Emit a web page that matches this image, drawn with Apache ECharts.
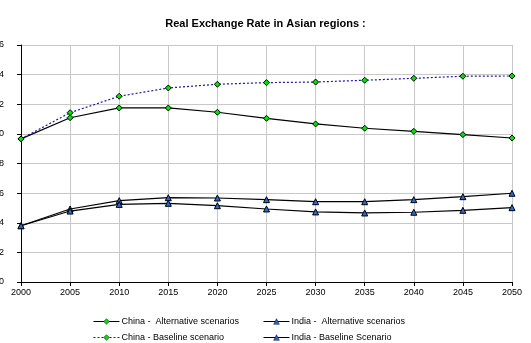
<!DOCTYPE html>
<html><head><meta charset="utf-8">
<script src="https://cdn.jsdelivr.net/npm/echarts@6/dist/echarts.min.js"></script>
<style>html,body{margin:0;padding:0;background:#fff}#c{width:531px;height:343px}</style>
</head><body><div id="c"></div>
<script>
var years = ['2000','2005','2010','2015','2020','2025','2030','2035','2040','2045','2050'];
var chinaAlt = [0.966,1.109,1.175,1.175,1.146,1.105,1.067,1.038,1.017,0.995,0.972];
var chinaBase = [0.966,1.143,1.254,1.310,1.335,1.346,1.350,1.362,1.375,1.389,1.391];
var indiaAlt = [0.380,0.493,0.549,0.569,0.567,0.556,0.542,0.542,0.556,0.576,0.599];
var indiaBase = [0.380,0.479,0.524,0.531,0.515,0.493,0.473,0.466,0.471,0.484,0.502];
var names = ['China -  Alternative scenarios','China - Baseline scenario','India -  Alternative scenarios','India - Baseline Scenario'];
var FONT = 'Liberation Sans, Arial, sans-serif';
var chart = echarts.init(document.getElementById('c'), null, {renderer:'canvas'});
function mk(name, data, lineColor, lineType, sym, symColor){
  return {name:name, type:'line', data:data, symbol:sym, symbolSize:6,
    lineStyle:{color:lineColor, width:1.2, type:lineType},
    itemStyle:{color:symColor, borderColor:'#000', borderWidth:1},
    emphasis:{disabled:true}, animation:false};
}
function lg(name, left, top){
  return {data:[name], orient:'horizontal', left:left, top:top, itemWidth:26, itemHeight:7, padding:0,
    lineStyle:{width:1}, itemStyle:{borderWidth:0.5},
    textStyle:{fontFamily:FONT, fontSize:9, color:'#000', padding:[0,0,0,-3]}};
}
chart.setOption({
  animation:false,
  title:{text:'Real Exchange Rate in Asian regions :', left:'center', top:13,
    textStyle:{fontFamily:FONT, fontSize:11, fontWeight:'bold', color:'#000'}},
  grid:{left:21, right:19, top:45, bottom:61, containLabel:false, outerBoundsMode:'none'},
  xAxis:{type:'category', data:years, boundaryGap:false,
    axisLine:{lineStyle:{color:'#000', width:1}},
    axisTick:{show:true, length:4, alignWithLabel:true, lineStyle:{color:'#000'}},
    axisLabel:{fontFamily:FONT, fontSize:9, color:'#000', margin:6},
    splitLine:{show:true, lineStyle:{color:'#c8c8c8', width:1}}},
  yAxis:{type:'value', min:0, max:1.6, interval:0.2,
    axisLine:{show:true, lineStyle:{color:'#000', width:1}},
    axisTick:{show:true, length:4, lineStyle:{color:'#000'}},
    axisLabel:{fontFamily:FONT, fontSize:9, color:'#000', margin:17,
      formatter:function(v){return v===0?'0':v.toFixed(1);}},
    splitLine:{show:true, lineStyle:{color:'#c8c8c8', width:1}}},
  legend:[
    lg(names[0], 93, 317),
    lg(names[1], 93, 333),
    lg(names[2], 263, 317),
    lg(names[3], 263, 333)
  ],
  series:[
    mk(names[0], chinaAlt, '#000', 'solid', 'diamond', '#00e000'),
    mk(names[1], chinaBase, '#1a1aa0', [2,2], 'diamond', '#00e000'),
    mk(names[2], indiaAlt, '#000', 'solid', 'triangle', '#2a6ad8'),
    mk(names[3], indiaBase, '#000', 'solid', 'triangle', '#2a6ad8')
  ]
});
</script></body></html>
